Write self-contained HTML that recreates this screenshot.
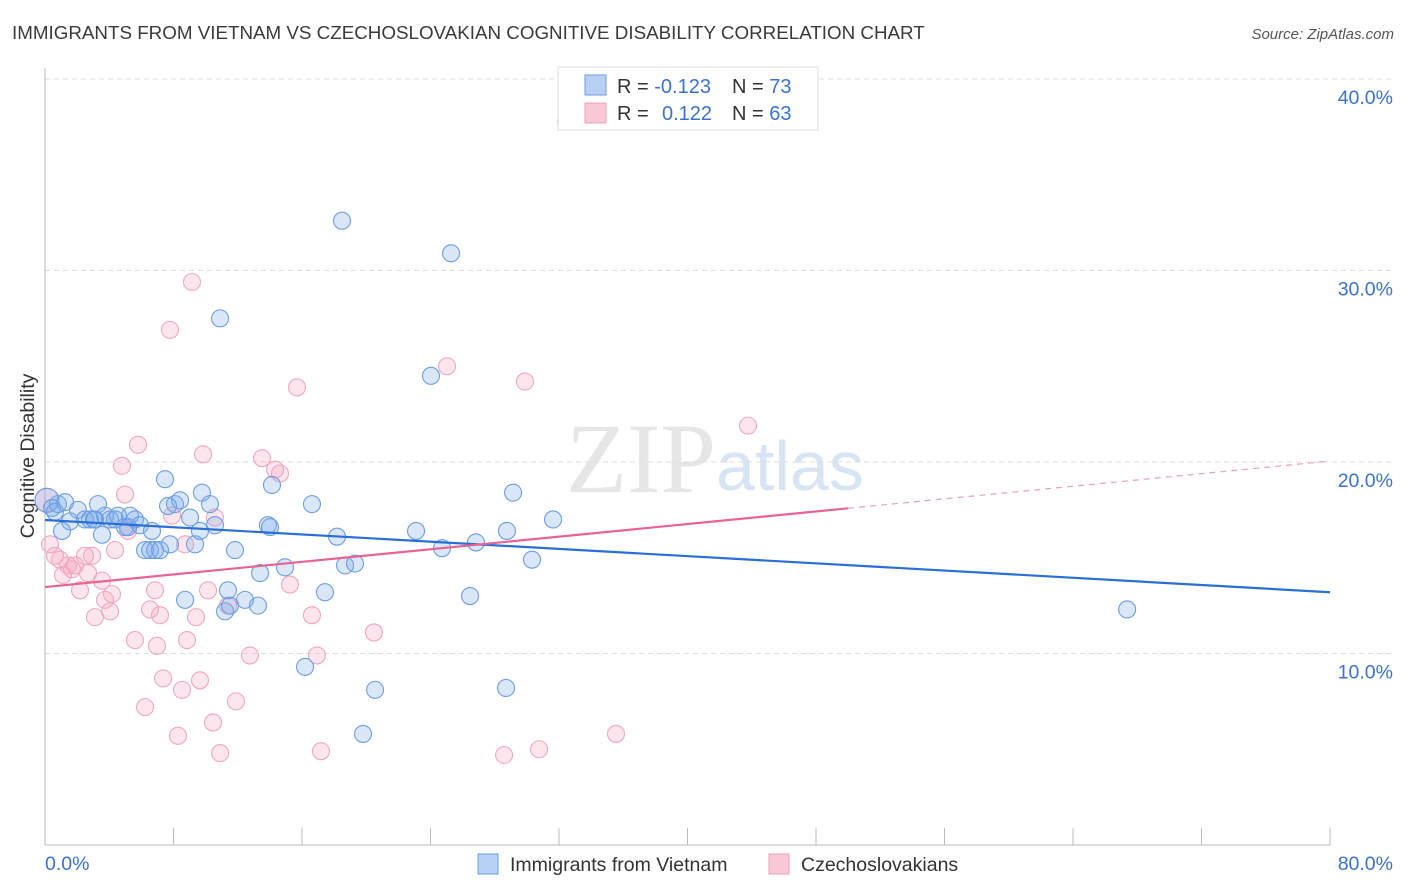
<!DOCTYPE html>
<html><head><meta charset="utf-8"><style>
body{margin:0;background:#fff;font-family:"Liberation Sans",sans-serif;}
svg{display:block}
</style></head><body>
<svg id="c" width="1406" height="892" xmlns="http://www.w3.org/2000/svg">
<text x="12" y="39" font-size="18.8" fill="#3a3a3a">IMMIGRANTS FROM VIETNAM VS CZECHOSLOVAKIAN COGNITIVE DISABILITY CORRELATION CHART</text>
<text x="1394" y="39" font-size="15" fill="#555" font-style="italic" text-anchor="end">Source: ZipAtlas.com</text>
<text x="34" y="456" font-size="19.5" fill="#333" text-anchor="middle" transform="rotate(-90 34 456)">Cognitive Disability</text>
<text x="716" y="492" font-size="100" fill="#e6e6e6" text-anchor="end" font-family="Liberation Serif,serif">ZIP</text>
<text x="716" y="490" font-size="70" fill="#d8e4f4">atlas</text>
<g id="grid"></g><g id="pts"></g><g id="trend"></g>
<g>
<rect x="558" y="67" width="260" height="63" fill="#fff" stroke="#ddd"/>
<rect x="585" y="75" width="21" height="20" fill="#b8d0f4" stroke="#6f9be0"/>
<rect x="585" y="103" width="21" height="20" fill="#f9c8d6" stroke="#eea0b8"/>
<text x="617" y="93" font-size="20" fill="#333">R = <tspan fill="#3a72d0">-0.123</tspan><tspan x="732">N = </tspan><tspan fill="#3a72d0">73</tspan></text>
<text x="617" y="120" font-size="20" fill="#333">R = <tspan x="662" fill="#3a72d0">0.122</tspan><tspan x="732">N = </tspan><tspan fill="#3a72d0">63</tspan></text>
</g>
<g>
<rect x="478" y="854" width="20" height="20" fill="#b8d0f4" stroke="#6f9be0"/>
<text x="510" y="871" font-size="19.5" fill="#333">Immigrants from Vietnam</text>
<rect x="769" y="854" width="20" height="20" fill="#f9c8d6" stroke="#eea0b8"/>
<text x="801" y="871" font-size="19.5" fill="#333">Czechoslovakians</text>
</g>
</svg>
<script>
const blueX=[0.12,0.44,0.62,0.81,1.06,1.25,1.56,2.05,2.49,2.80,3.11,3.30,3.55,3.74,4.05,4.36,4.54,4.98,5.29,5.60,5.91,6.23,6.54,6.66,6.85,7.16,7.47,7.78,8.09,8.41,8.72,9.03,9.34,9.65,9.77,10.27,10.58,10.90,11.21,11.39,11.52,11.83,12.45,13.26,13.39,13.88,14.01,14.13,14.94,16.19,16.62,17.43,18.18,18.49,18.68,19.30,19.80,20.55,23.10,24.03,24.72,25.28,26.46,26.83,28.70,28.76,29.14,30.32,31.63,67.37,7.66,5.17,3.05];
const blueY=[18.0,17.6,17.4,17.8,16.4,17.9,16.9,17.5,17.0,17.0,17.0,17.8,16.2,17.2,17.0,17.0,17.2,16.6,17.2,17.0,16.7,15.4,15.4,16.4,15.4,15.4,19.1,15.7,17.8,18.0,12.8,17.1,15.7,16.4,18.4,17.8,16.7,27.5,12.2,13.3,12.5,15.4,12.8,12.5,14.2,16.7,16.6,18.8,14.5,9.3,17.8,13.2,16.1,32.6,14.6,14.7,5.8,8.1,16.4,24.5,15.5,30.9,13.0,15.8,8.2,16.4,18.4,14.9,17.0,12.3,17.7,16.6,17.0];
const pinkX=[0.12,0.31,0.62,0.93,1.12,1.43,1.68,1.87,2.18,2.49,2.68,2.93,3.11,3.55,3.74,4.05,4.17,4.36,4.79,4.98,5.17,5.60,5.79,6.23,6.54,6.85,6.97,7.16,7.35,7.78,7.91,8.28,8.53,8.72,8.84,9.15,9.40,9.65,9.84,10.15,10.46,10.58,10.90,11.39,11.89,12.76,13.51,14.32,14.63,15.25,15.69,16.62,16.93,17.18,20.48,25.03,28.58,29.88,30.76,32.44,35.55,43.77];
const pinkY=[18.0,15.7,15.1,14.9,14.1,14.6,14.4,14.6,13.3,15.1,14.2,15.1,11.9,13.8,12.8,12.2,13.1,15.4,19.8,18.3,16.4,10.7,20.9,7.2,12.3,13.3,10.4,12.0,8.7,26.9,17.2,5.7,8.1,15.7,10.7,29.4,11.9,8.6,20.4,13.3,6.4,17.1,4.8,12.5,7.5,9.9,20.2,19.6,19.4,13.6,23.9,12.0,9.9,4.9,11.1,25.0,4.7,24.2,5.0,37.8,5.8,21.9];
const blueTrend=[16.97,13.2];
const pinkTrend=[13.47,20.05];
const pinkSolidEnd=50;
const yTicks=[10,20,30,40];
const xTickCount=10;
const NS="http://www.w3.org/2000/svg";
const X0=45,X1=1330,Y0=845,PPY=19.15;
const sx=v=>X0+v/80*(X1-X0), sy=v=>Y0-v*PPY;
function mk(t,a,p){const e=document.createElementNS(NS,t);for(const k in a)e.setAttribute(k,a[k]);p.appendChild(e);return e;}
const grid=document.getElementById('grid');
yTicks.forEach(t=>{
 const l=mk('line',{x1:X0,x2:1393,y1:sy(t),y2:sy(t),stroke:'#ddd','stroke-dasharray':'5,4'},grid);
 
 
 const tx=mk('text',{x:1393,y:sy(t)+25,'font-size':19.5,fill:'#3a72d0','text-anchor':'end'},grid);
 tx.textContent=t.toFixed(1)+'%';
 
 
});
const ax=mk('line',{x1:X0,x2:X1,y1:Y0,y2:Y0,stroke:'#bbb'},grid);


const ay=mk('line',{x1:X0,x2:X0,y1:68,y2:Y0,stroke:'#bbb'},grid);


for(let i=0;i<=xTickCount;i++){const x=sx(i*8);const tk=mk('line',{x1:x,x2:x,y1:828,y2:Y0,stroke:'#bbb'},grid);
 
 }
const xl0=mk('text',{x:45,y:870,'font-size':19.5,fill:'#3a72d0'},grid);xl0.textContent='0.0%';


const xl1=mk('text',{x:1393,y:870,'font-size':19.5,fill:'#3a72d0','text-anchor':'end'},grid);xl1.textContent='80.0%';


const pts=document.getElementById('pts');
function dots(xs,ys,fill,stroke,name){xs.forEach((x,i)=>{const c=mk('circle',{cx:sx(x),cy:sy(ys[i]),r:i===0?12:8.5,fill:fill,stroke:stroke,'stroke-width':1.1},pts);
 
 });}
dots(pinkX,pinkY,'rgba(244,160,188,0.28)','#f0a8c0','point-czechoslovakian');
dots(blueX,blueY,'rgba(120,168,235,0.28)','#6d9de4','point-vietnam');
const tr=document.getElementById('trend');
const bt=mk('line',{x1:sx(0),y1:sy(blueTrend[0]),x2:sx(80),y2:sy(blueTrend[1]),stroke:'#2a6fd6','stroke-width':2.2},tr);


const pm=pinkTrend[0]+(pinkTrend[1]-pinkTrend[0])*pinkSolidEnd/80;
const pt=mk('line',{x1:sx(0),y1:sy(pinkTrend[0]),x2:sx(pinkSolidEnd),y2:sy(pm),stroke:'#e8648e','stroke-width':2.2},tr);


const pd=mk('line',{x1:sx(pinkSolidEnd),y1:sy(pm),x2:sx(80),y2:sy(pinkTrend[1]),stroke:'#e8a0b8','stroke-width':1.2,'stroke-dasharray':'6,5'},tr);


</script>
</body></html>
